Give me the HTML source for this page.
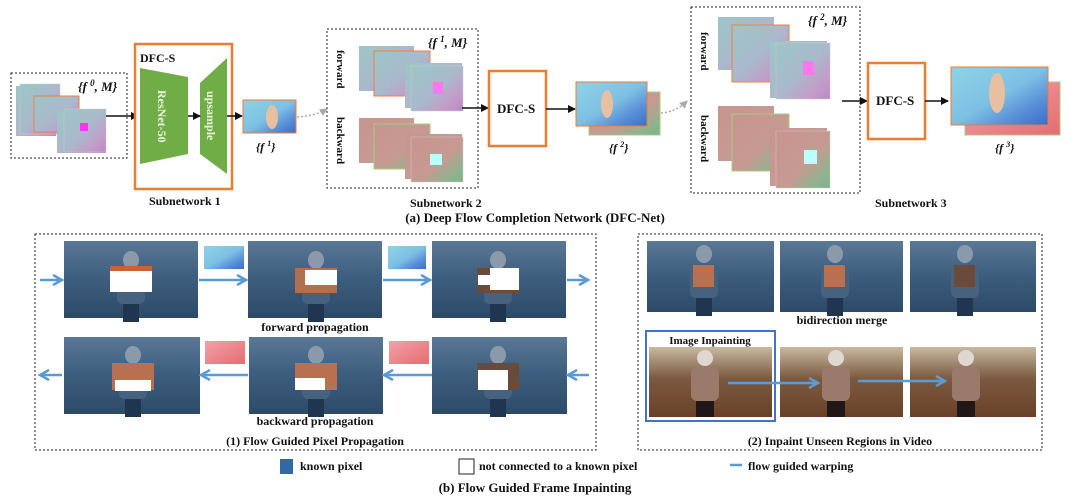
<!DOCTYPE html>
<html><head><meta charset="utf-8"><style>
html,body{margin:0;padding:0;background:#fff;}
svg{display:block;}
text{font-family:"Liberation Serif",serif;font-weight:bold;fill:#111;}
</style></head><body>
<svg width="1071" height="499" viewBox="0 0 1071 499" xmlns="http://www.w3.org/2000/svg">
<defs>
<linearGradient id="fw" x1="0" y1="0" x2="1" y2="1">
<stop offset="0" stop-color="#9cc6c6"/><stop offset="0.5" stop-color="#a9b9cc"/><stop offset="0.8" stop-color="#c59ac8"/><stop offset="1" stop-color="#b48ac6"/></linearGradient>
<linearGradient id="bw" x1="0" y1="0" x2="1" y2="1">
<stop offset="0" stop-color="#c8948f"/><stop offset="0.55" stop-color="#c69a92"/><stop offset="0.85" stop-color="#8cb48f"/><stop offset="1" stop-color="#7fb08a"/></linearGradient>
<linearGradient id="f1" x1="0" y1="0" x2="1" y2="1">
<stop offset="0" stop-color="#8fd3e6"/><stop offset="0.5" stop-color="#7ec0e4"/><stop offset="0.75" stop-color="#5a90d8"/><stop offset="1" stop-color="#3a6cc8"/></linearGradient>
<linearGradient id="pk" x1="0" y1="0" x2="1" y2="1">
<stop offset="0" stop-color="#f3a0a8"/><stop offset="1" stop-color="#e56d72"/></linearGradient>
<linearGradient id="ph" x1="0" y1="0" x2="0" y2="1">
<stop offset="0" stop-color="#5a7896"/><stop offset="0.45" stop-color="#3f5f80"/><stop offset="1" stop-color="#2c4a68"/></linearGradient>
<linearGradient id="rl" x1="0" y1="0" x2="0" y2="1">
<stop offset="0" stop-color="#c8b8a0"/><stop offset="0.45" stop-color="#7a5a40"/><stop offset="1" stop-color="#6a4028"/></linearGradient>
<marker id="ah" markerWidth="8" markerHeight="8" refX="7" refY="4" orient="auto" markerUnits="userSpaceOnUse"><path d="M0,0 L8,4 L0,8 Z" fill="#111"/></marker>
<marker id="ag" markerWidth="8" markerHeight="8" refX="7" refY="4" orient="auto" markerUnits="userSpaceOnUse"><path d="M0,0 L8,4 L0,8 Z" fill="#aaa"/></marker>
<marker id="ab" markerWidth="12" markerHeight="12" refX="10" refY="6" orient="auto" markerUnits="userSpaceOnUse"><path d="M1,1 L10,6 L1,11" fill="none" stroke="#5b9bd5" stroke-width="2.5"/></marker>
<g id="fig"><ellipse cx="0" cy="-22" rx="8" ry="9" fill="#8a9aaa"/><rect x="-14" y="-12" width="28" height="34" rx="6" fill="#46627e"/><rect x="-8" y="22" width="16" height="18" fill="#1f3550"/></g>
<g id="fig2"><ellipse cx="0" cy="-24" rx="8" ry="8" fill="#e0d8d0"/><rect x="-14" y="-15" width="28" height="34" rx="6" fill="#9a7a6a"/><rect x="-9" y="19" width="18" height="16" fill="#201818"/></g>
</defs>

<!-- Top section -->
<rect x="11" y="73" width="116" height="85" fill="none" stroke="#222" stroke-dasharray="2,2" stroke-width="1"/>
<g>
<rect x="16" y="86" width="40" height="50" fill="url(#fw)"/>
<rect x="20" y="84" width="40" height="50" fill="url(#fw)" stroke="#ccc" stroke-width="0.5"/>
<rect x="34" y="96" width="45" height="36" fill="url(#fw)" stroke="#f08040" stroke-width="1"/>
<rect x="57" y="111" width="49" height="42" fill="url(#fw)"/>
<rect x="64" y="109" width="42" height="43" fill="url(#fw)" stroke="#ccc" stroke-width="0.5"/>
<rect x="80" y="123" width="8" height="8" fill="#f3e"/>
</g>
<text x="78" y="91" font-size="13" font-style="italic">{f <tspan font-size="9" dy="-5">0</tspan><tspan dy="5">, M}</tspan></text>
<line x1="106" y1="116" x2="138" y2="116" stroke="#111" stroke-width="1.5" marker-end="url(#ah)"/>

<rect x="135" y="44" width="97" height="145" fill="#fff" stroke="#ed7d31" stroke-width="2.5"/>
<text x="140" y="62" font-size="12">DFC-S</text>
<polygon points="140,68 188,77 188,154 140,164" fill="#70ad47"/>
<polygon points="200,83 227,58 227,174 200,154" fill="#70ad47"/>
<text transform="translate(158,90) rotate(90)" font-size="12" style="fill:#e9f5e0">ResNet-50</text>
<text transform="translate(207,91) rotate(90)" font-size="12" style="fill:#e9f5e0">upsample</text>
<line x1="188" y1="116" x2="200" y2="116" stroke="#111" stroke-width="1.5" marker-end="url(#ah)"/>
<line x1="227" y1="116" x2="242" y2="116" stroke="#111" stroke-width="1.5" marker-end="url(#ah)"/>
<text x="149" y="205" font-size="12">Subnetwork 1</text>

<rect x="243" y="100" width="53" height="33" fill="url(#f1)" stroke="#ed7d31" stroke-width="1"/>
<ellipse cx="272" cy="117" rx="6" ry="12" fill="#e8c0a0"/>
<text x="256" y="151" font-size="12" font-style="italic">{f <tspan font-size="8" dy="-5">1</tspan><tspan dy="5">}</tspan></text>
<path d="M297,117 Q315,116 327,109" fill="none" stroke="#aaa" stroke-width="1.5" stroke-dasharray="2,2" marker-end="url(#ag)"/>

<rect x="327" y="29" width="151" height="159" fill="none" stroke="#222" stroke-dasharray="2,2" stroke-width="1"/>
<text transform="translate(337,50) rotate(90)" font-size="11">forward</text>
<text transform="translate(337,117) rotate(90)" font-size="11">backward</text>
<text x="428" y="47" font-size="13" font-style="italic">{f <tspan font-size="9" dy="-5">1</tspan><tspan dy="5">, M}</tspan></text>
<rect x="359" y="46" width="55" height="45" fill="url(#fw)"/>
<rect x="374" y="51" width="56" height="45" fill="url(#fw)" stroke="#f08040"/>
<rect x="405" y="63" width="57" height="45" fill="url(#fw)"/>
<rect x="411" y="66" width="52" height="45" fill="url(#fw)" stroke="#ccc" stroke-width="0.5"/>
<rect x="433" y="82" width="10" height="12" fill="#f7e"/>
<rect x="359" y="118" width="55" height="45" fill="url(#bw)"/>
<rect x="374" y="124" width="56" height="45" fill="url(#bw)" stroke="#9fd27a"/>
<rect x="405" y="134" width="57" height="45" fill="url(#bw)"/>
<rect x="411" y="137" width="52" height="45" fill="url(#bw)" stroke="#ccc" stroke-width="0.5"/>
<rect x="430" y="154" width="12" height="11" fill="#bff"/>
<line x1="462" y1="108" x2="488" y2="108" stroke="#111" stroke-width="1.5" marker-end="url(#ah)"/>

<rect x="489" y="71" width="57" height="75" fill="#fff" stroke="#ed7d31" stroke-width="2.5"/>
<text x="497" y="113" font-size="13">DFC-S</text>
<line x1="546" y1="109" x2="575" y2="109" stroke="#111" stroke-width="1.5" marker-end="url(#ah)"/>
<rect x="589" y="92" width="71" height="43" fill="url(#bw)" stroke="#9fd27a"/>
<rect x="576" y="82" width="71" height="44" fill="url(#f1)" stroke="#ed7d31"/>
<ellipse cx="607" cy="104" rx="6" ry="14" fill="#e8c0a0"/>
<text x="609" y="152" font-size="12" font-style="italic">{f <tspan font-size="8" dy="-5">2</tspan><tspan dy="5">}</tspan></text>
<path d="M661,113 Q676,112 687,101" fill="none" stroke="#aaa" stroke-width="1.5" stroke-dasharray="2,2" marker-end="url(#ag)"/>

<rect x="691" y="7" width="169" height="186" fill="none" stroke="#222" stroke-dasharray="2,2" stroke-width="1"/>
<text transform="translate(701,32) rotate(90)" font-size="11">forward</text>
<text transform="translate(701,115) rotate(90)" font-size="11">backward</text>
<text x="808" y="25" font-size="13" font-style="italic">{f <tspan font-size="9" dy="-5">2</tspan><tspan dy="5">, M}</tspan></text>
<rect x="718" y="17" width="56" height="53" fill="url(#fw)"/>
<rect x="732" y="25" width="57" height="57" fill="url(#fw)" stroke="#f08040"/>
<rect x="770" y="41" width="57" height="57" fill="url(#fw)"/>
<rect x="776" y="43" width="54" height="56" fill="url(#fw)" stroke="#ccc" stroke-width="0.5"/>
<rect x="803" y="61" width="11" height="14" fill="#f7e"/>
<rect x="718" y="106" width="56" height="55" fill="url(#bw)"/>
<rect x="732" y="114" width="57" height="57" fill="url(#bw)" stroke="#9fd27a"/>
<rect x="770" y="128" width="57" height="58" fill="url(#bw)"/>
<rect x="776" y="131" width="54" height="57" fill="url(#bw)" stroke="#ccc" stroke-width="0.5"/>
<rect x="804" y="150" width="13" height="14" fill="#bff"/>
<line x1="842" y1="101" x2="867" y2="101" stroke="#111" stroke-width="1.5" marker-end="url(#ah)"/>

<rect x="868" y="63" width="57" height="76" fill="#fff" stroke="#ed7d31" stroke-width="2.5"/>
<text x="876" y="105" font-size="13">DFC-S</text>
<line x1="925" y1="101" x2="948" y2="101" stroke="#111" stroke-width="1.5" marker-end="url(#ah)"/>
<rect x="965" y="82" width="95" height="53" fill="url(#pk)" stroke="#9fd27a"/>
<rect x="951" y="67" width="97" height="58" fill="url(#f1)" stroke="#ed7d31"/>
<ellipse cx="997" cy="93" rx="8" ry="20" fill="#e8c0a0"/>
<text x="995" y="152" font-size="12" font-style="italic">{f <tspan font-size="8" dy="-5">3</tspan><tspan dy="5">}</tspan></text>
<text x="875" y="207" font-size="12">Subnetwork 3</text>
<text x="410" y="207" font-size="12">Subnetwork 2</text>
<text x="535" y="222" font-size="13" text-anchor="middle">(a) Deep Flow Completion Network (DFC-Net)</text>

<!-- Bottom left -->
<rect x="35" y="234" width="561" height="216" fill="none" stroke="#222" stroke-dasharray="2,2" stroke-width="1"/>
<g>
<rect x="64" y="241" width="134" height="77" fill="url(#ph)"/><use href="#fig" x="131" y="282"/>
<rect x="110" y="268" width="42" height="24" fill="#fff"/>
<rect x="110" y="266" width="42" height="5" fill="#c8603a"/>
<rect x="248" y="241" width="134" height="77" fill="url(#ph)"/><use href="#fig" x="316" y="282"/>
<rect x="295" y="268" width="42" height="25" fill="#b07050"/><rect x="305" y="270" width="32" height="15" fill="#fff"/>
<rect x="432" y="241" width="134" height="77" fill="url(#ph)"/><use href="#fig" x="498" y="282"/>
<rect x="477" y="268" width="42" height="25" fill="#6a4a38"/><rect x="490" y="268" width="29" height="22" fill="#fff"/><rect x="478" y="275" width="12" height="10" fill="#fff"/>
<rect x="204" y="246" width="40" height="23" fill="url(#f1)"/>
<rect x="388" y="246" width="38" height="23" fill="url(#f1)"/>
<text x="315" y="331" font-size="12" text-anchor="middle">forward propagation</text>
<rect x="64" y="337" width="136" height="77" fill="url(#ph)"/><use href="#fig" x="133" y="377"/>
<rect x="112" y="363" width="42" height="27" fill="#b87050"/><rect x="115" y="380" width="36" height="11" fill="#fff"/>
<rect x="249" y="337" width="134" height="77" fill="url(#ph)"/><use href="#fig" x="316" y="377"/>
<rect x="295" y="363" width="42" height="27" fill="#b87050"/><rect x="295" y="378" width="30" height="12" fill="#fff"/>
<rect x="432" y="337" width="135" height="77" fill="url(#ph)"/><use href="#fig" x="498" y="377"/>
<rect x="477" y="363" width="42" height="27" fill="#6a4a38"/><rect x="478" y="370" width="30" height="20" fill="#fff"/>
<rect x="205" y="341" width="40" height="23" fill="url(#pk)"/>
<rect x="389" y="341" width="40" height="23" fill="url(#pk)"/>
<text x="315" y="425" font-size="12" text-anchor="middle">backward propagation</text>
<text x="315" y="445" font-size="12" text-anchor="middle">(1) Flow Guided Pixel Propagation</text>
</g>
<g stroke="#5b9bd5" stroke-width="2.5" fill="none">
<line x1="40" y1="280" x2="62" y2="280" marker-end="url(#ab)"/>
<line x1="199" y1="280" x2="246" y2="280" marker-end="url(#ab)"/>
<line x1="383" y1="280" x2="430" y2="280" marker-end="url(#ab)"/>
<line x1="567" y1="280" x2="588" y2="280" marker-end="url(#ab)"/>
<line x1="62" y1="375" x2="40" y2="375" marker-end="url(#ab)"/>
<line x1="248" y1="375" x2="201" y2="375" marker-end="url(#ab)"/>
<line x1="432" y1="375" x2="384" y2="375" marker-end="url(#ab)"/>
<line x1="589" y1="375" x2="568" y2="375" marker-end="url(#ab)"/>
</g>

<!-- Bottom right -->
<rect x="638" y="234" width="404" height="216" fill="none" stroke="#222" stroke-dasharray="2,2" stroke-width="1"/>
<rect x="647" y="241" width="127" height="71" fill="url(#ph)"/><use href="#fig" x="704" y="276"/>
<rect x="693" y="265" width="21" height="22" fill="#b87050"/>
<rect x="780" y="241" width="123" height="71" fill="url(#ph)"/><use href="#fig" x="835" y="276"/>
<rect x="824" y="265" width="21" height="22" fill="#b87050"/>
<rect x="910" y="241" width="126" height="71" fill="url(#ph)"/><use href="#fig" x="965" y="276"/>
<rect x="954" y="265" width="21" height="22" fill="#6a4a38"/>
<text x="842" y="324" font-size="12" text-anchor="middle">bidirection merge</text>
<rect x="646" y="331" width="129" height="90" fill="none" stroke="#4472c4" stroke-width="2"/>
<text x="710" y="344" font-size="11" text-anchor="middle">Image Inpainting</text>
<rect x="649" y="347" width="123" height="70" fill="url(#rl)"/><use href="#fig2" x="705" y="382"/>
<rect x="780" y="347" width="123" height="70" fill="url(#rl)"/><use href="#fig2" x="836" y="382"/>
<rect x="910" y="347" width="126" height="70" fill="url(#rl)"/><use href="#fig2" x="966" y="382"/>
<g stroke="#5b9bd5" stroke-width="2.5" fill="none">
<line x1="728" y1="383" x2="818" y2="383" marker-end="url(#ab)"/>
<line x1="858" y1="381" x2="945" y2="381" marker-end="url(#ab)"/>
</g>
<text x="840" y="445" font-size="12" text-anchor="middle">(2) Inpaint Unseen Regions in Video</text>

<!-- Legend -->
<rect x="280" y="459" width="13" height="15" fill="#2e6aa5"/>
<text x="300" y="470" font-size="12">known pixel</text>
<rect x="459" y="459" width="15" height="15" fill="#fff" stroke="#222" stroke-width="1"/>
<text x="479" y="470" font-size="12">not connected to a known pixel</text>
<line x1="730" y1="465" x2="742" y2="465" stroke="#5b9bd5" stroke-width="2.5"/>
<text x="748" y="470" font-size="12">flow guided warping</text>
<text x="535" y="492" font-size="13" text-anchor="middle">(b) Flow Guided Frame Inpainting</text>
</svg>
</body></html>
